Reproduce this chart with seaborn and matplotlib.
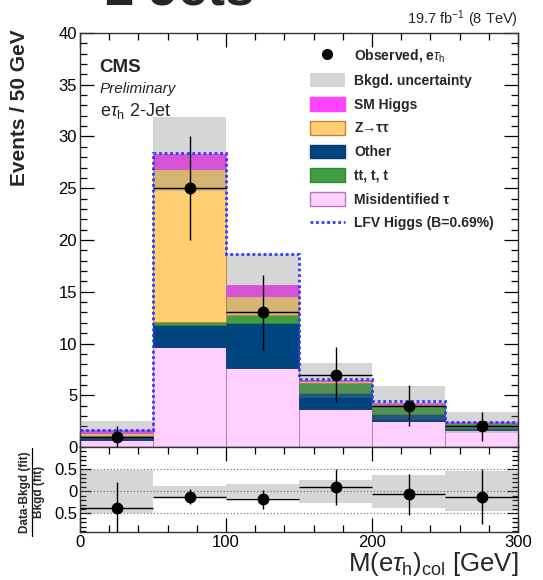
import numpy as np
import pandas as pd
import matplotlib
matplotlib.use("Agg")
import matplotlib.pyplot as plt
import seaborn as sns
from matplotlib.patches import Patch
from matplotlib.lines import Line2D
from matplotlib.ticker import MultipleLocator, FixedLocator

# ---------------- data ----------------
bin_edges = [0, 50, 100, 150, 200, 250, 300]
# stacking order: listed top -> bottom
processes = ["SM Higgs", "Z→ττ", "tt, t, t", "Other", "Misidentified τ"]
smhiggs = [0.29, 1.4, 1.1, 0.1, 0.05, 0.03]
ztautau = [0.27, 14.8, 1.85, 0.15, 0.15, 0.05]
ttbar = [0.10, 0.3, 0.75, 1.0, 0.85, 0.5]
other = [0.30, 2.1, 4.35, 1.5, 0.7, 0.15]
misid = [0.68, 9.7, 7.65, 3.7, 2.5, 1.65]
lfv_signal = [0.05, 0.1, 2.9, 0.1, 0.15, 0.05]
bkg_unc = [0.9, 3.6, 2.9, 1.7, 1.6, 1.0]
observed = [1, 25, 13, 7, 4, 2]
observed_err = [1.0, 5.0, 3.6, 2.65, 2.0, 1.41]
ratio = [-0.38, -0.12, -0.17, 0.10, -0.07, -0.12]
ratio_err_up = [0.60, 0.17, 0.20, 0.41, 0.46, 0.62]
ratio_err_dn = [0.62, 0.16, 0.22, 0.41, 0.47, 0.62]
ratio_unc = [0.48, 0.13, 0.16, 0.26, 0.37, 0.45]

colors = {"SM Higgs": "#ff44ff", "Z→ττ": "#ffcf72", "tt, t, t": "#3f9e42",
          "Other": "#004580", "Misidentified τ": "#ffd0ff"}
edges_c = {"SM Higgs": "#ff44ff", "Z→ττ": "#c8803a", "tt, t, t": "#2f8a33",
           "Other": "#0a3d6b", "Misidentified τ": "#b07ab0"}
series = {"SM Higgs": smhiggs, "Z→ττ": ztautau, "tt, t, t": ttbar,
          "Other": other, "Misidentified τ": misid}

edges = np.array(bin_edges, dtype=float)
centers = 0.5 * (edges[:-1] + edges[1:])
half_w = 0.5 * np.diff(edges)

rows = []
for p in processes:
    for c, v in zip(centers, series[p]):
        rows.append({"mass": c, "weight": v, "process": p})
df = pd.DataFrame(rows)
total = np.sum([series[p] for p in processes], axis=0)

# ---------------- style ----------------
sns.set_style("ticks")
plt.rcParams["font.family"] = ["Liberation Sans", "DejaVu Sans"]
plt.rcParams["mathtext.fontset"] = "custom"
plt.rcParams["mathtext.rm"] = "Liberation Sans"
plt.rcParams["mathtext.it"] = "Liberation Sans:italic"
plt.rcParams["mathtext.bf"] = "Liberation Sans:bold"

fig = plt.figure(figsize=(5.43, 5.80), dpi=100)
W, H = 543.0, 580.0
ax = fig.add_axes([80 / W, (H - 447) / H, 438 / W, 414 / H])
axr = fig.add_axes([80 / W, (H - 532) / H, 438 / W, 85 / H], sharex=ax)

sns.histplot(data=df, x="mass", weights="weight", hue="process",
             hue_order=processes, palette=colors, multiple="stack",
             bins=bin_edges, element="bars", alpha=1.0, linewidth=0.6,
             legend=False, ax=ax)
fc_to_edge = {matplotlib.colors.to_hex(colors[p]): edges_c[p] for p in processes}
for patch in ax.patches:
    key = matplotlib.colors.to_hex(patch.get_facecolor()[:3])
    if key in fc_to_edge:
        patch.set_edgecolor(fc_to_edge[key])

unc_color = (0.47, 0.47, 0.47)
unc_alpha = 0.3
ax.bar(centers, 2 * np.array(bkg_unc), bottom=total - np.array(bkg_unc),
       width=np.diff(edges), color=unc_color, alpha=unc_alpha, lw=0, zorder=3)

ax.stairs(total + np.array(lfv_signal), edges, baseline=None, color="#2a3cff",
          lw=2.0, linestyle=(0, (1, 1)), zorder=4)

ax.errorbar(centers, observed, yerr=observed_err, xerr=half_w, fmt="o",
            color="black", ms=7.5, elinewidth=1.0, capsize=0, zorder=5)

ax.set_xlim(0, 300)
ax.set_ylim(0, 40)
ax.set_xlabel("")
ax.set_ylabel("")
ax.yaxis.set_major_locator(MultipleLocator(5))
ax.yaxis.set_minor_locator(MultipleLocator(1))
ax.xaxis.set_major_locator(MultipleLocator(100))
ax.xaxis.set_minor_locator(MultipleLocator(20))
plt.setp(ax.get_xticklabels(), visible=False)

# ratio panel
axr.bar(centers, 2 * np.array(ratio_unc), bottom=-np.array(ratio_unc),
        width=np.diff(edges), color=unc_color, alpha=unc_alpha, lw=0, zorder=1)
for yv in (-0.5, 0.0, 0.5):
    axr.axhline(yv, color="#666666", lw=0.8, ls=(0, (1, 2)), zorder=2)
axr.errorbar(centers, ratio, yerr=[ratio_err_dn, ratio_err_up], xerr=half_w,
             fmt="o", color="black", ms=7.5, elinewidth=1.0, capsize=0, zorder=5)
axr.set_ylim(-0.92, 1.0)
axr.yaxis.set_major_locator(FixedLocator([-0.5, 0.0, 0.5]))
axr.set_yticklabels(["0.5", "0", "0.5"])
axr.yaxis.set_minor_locator(MultipleLocator(0.1))
axr.set_xlim(0, 300)

for a in (ax, axr):
    a.tick_params(which="both", direction="in", top=True, right=True,
                  width=0.9, colors="black", labelsize=12, pad=2)
    a.tick_params(which="major", length=10)
    a.tick_params(which="minor", length=5)
    for s in a.spines.values():
        s.set_linewidth(1.0)
        s.set_color("#333333")
axr.tick_params(axis="y", which="major", length=8)
axr.tick_params(axis="y", which="minor", length=4)

axr.set_xlabel(r"M(e$\tau_{\rm h}$)$_{\rm col}$ [GeV]", fontsize=18.5,
               loc="right", labelpad=0)
axr.set_ylabel("")

# ---------------- text ----------------
fig.text(0.33, 1 - 6 / H, "2 Jets", fontsize=38, fontweight="bold",
         ha="center", va="baseline")
fig.text(518 / W, 1 - 24 / H, r"19.7 fb$^{-1}$ (8 TeV)", fontsize=10.5,
         ha="right", va="baseline")
ax.text(0.045, 0.905, "CMS", transform=ax.transAxes, fontsize=13.5,
        fontweight="bold", va="baseline")
ax.text(0.045, 0.855, "Preliminary", transform=ax.transAxes, fontsize=11,
        style="italic", va="baseline")
ax.text(0.045, 0.80, r"e$\tau_{\rm h}$ 2-Jet", transform=ax.transAxes,
        fontsize=13, va="baseline")
fig.text(29 / W, 1 - 108 / H, "Events / 50 GeV", rotation=90, fontsize=15,
         fontweight="bold", ha="right", va="center")

# ratio label as a fraction
yc = 1 - 492 / H
fig.text(31 / W, yc, "Data-Bkgd (fit)", rotation=90, fontsize=8.5,
         fontweight="bold", ha="right", va="center")
fig.text(33 / W, yc, "Bkgd (fit)", rotation=90, fontsize=8.5,
         fontweight="bold", ha="left", va="center")
fig.add_artist(Line2D([32 / W, 32 / W], [yc - 44 / H, yc + 44 / H],
                      transform=fig.transFigure, color="black", lw=0.9))

# ---------------- legend ----------------
def P(name, edge=None):
    return Patch(facecolor=colors[name], edgecolor=edge or edges_c[name], lw=1.0)

handles = [
    Line2D([], [], marker="o", color="black", ls="none", ms=7),
    Patch(facecolor=unc_color, alpha=unc_alpha, lw=0),
    P("SM Higgs"), P("Z→ττ"), P("Other"), P("tt, t, t"), P("Misidentified τ"),
    Line2D([], [], color="#2a3cff", lw=2.0, ls=(0, (1, 1))),
]
labels = [r"Observed, e$\tau_{\rm h}$", "Bkgd. uncertainty", "SM Higgs",
          "Z→ττ", "Other", "tt, t, t", "Misidentified τ",
          "LFV Higgs (B=0.69%)"]
leg = ax.legend(handles, labels, loc="upper left",
                bbox_to_anchor=(0.525, 0.966), frameon=False,
                prop={"size": 10, "weight": "bold"}, handlelength=2.5,
                handleheight=1.15, labelspacing=0.66, handletextpad=0.7,
                borderpad=0, borderaxespad=0)

fig.savefig("out.png", dpi=100)
